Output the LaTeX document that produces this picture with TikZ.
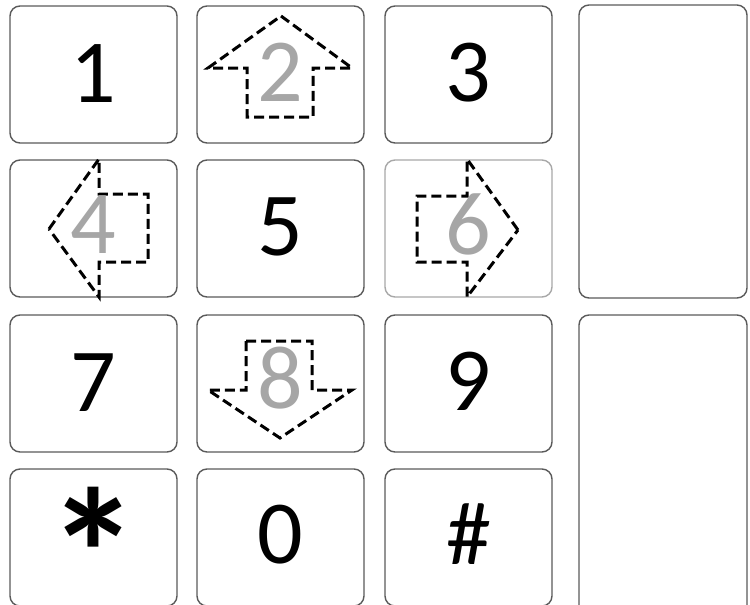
\documentclass[tikz,border=0pt]{standalone}
\usepackage{fontspec}
\setmainfont{Carlito}
\usetikzlibrary{calc}
\definecolor{keyedge}{HTML}{5A5A5A}
\definecolor{keyedgelight}{HTML}{A8A8A8}
\definecolor{digitgrey}{HTML}{A6A6A6}
\tikzset{
  key/.style={draw=keyedge, line width=1.4pt, rounded corners=10pt, fill=white,
    minimum width=167pt, minimum height=137pt, inner sep=0pt, outer sep=0pt, anchor=north west},
  digit/.style={font=\fontsize{90}{90}\selectfont, inner sep=0pt, anchor=base},
  greydigit/.style={digit, text=digitgrey},
  dasharrow/.style={draw=black, line width=3pt, dash pattern=on 10pt off 5pt, line join=miter},
}
\begin{document}
\begin{tikzpicture}[x=1pt,y=-1pt]
\useasboundingbox (0,0) rectangle (750,605);
\clip (0,0) rectangle (750,605);
% keys
\node[key] (k1) at (10,6) {};
\node[key] (k2) at (197,6) {};
\node[key] (k3) at (385,6) {};
\node[key] (k4) at (10,160) {};
\node[key] (k5) at (197,160) {};
\node[key, draw=keyedgelight] (k6) at (385,160) {};
\node[key] (k7) at (10,315) {};
\node[key] (k8) at (197,315) {};
\node[key] (k9) at (385,315) {};
\node[key] (kstar) at (10,469) {};
\node[key] (k0) at (197,469) {};
\node[key] (khash) at (385,469) {};
\node[key, minimum width=168pt, minimum height=293pt] (r1) at (579,5) {};
\node[key, minimum width=168pt, minimum height=300pt] (r2) at (579,315) {};
% dashed arrows
\draw[dasharrow] (281,16) -- (352,68) -- (313,68) -- (313,117) -- (247,117) -- (247,68) -- (208,68) -- cycle;
\draw[dasharrow] (49,229) -- (99,159) -- (99,194) -- (148,194) -- (148,262) -- (99,262) -- (99,297) -- cycle;
\draw[dasharrow] (518,230) -- (467,159) -- (467,196) -- (417,196) -- (417,262) -- (467,262) -- (467,297) -- cycle;
\draw[dasharrow] (246,341) -- (312,341) -- (312,390) -- (352,390) -- (280,438) -- (208,390) -- (246,390) -- cycle;
% digits
\node[digit] (d1) at ($(k1.north)+(0,96)$) {1};
\node[greydigit] (d2) at ($(k2.north)+(0,95)$) {2};
\node[digit] (d3) at ($(k3.north)+(0,95)$) {3};
\node[greydigit] (d4) at ($(k4.north)+(0,93)$) {4};
\node[digit] (d5) at ($(k5.north)+(0,95)$) {5};
\node[greydigit] (d6) at ($(k6.north)+(0,94)$) {6};
\node[digit] (d7) at ($(k7.north)+(0,96)$) {7};
\node[greydigit] (d8) at ($(k8.north)+(0,93)$) {8};
\node[digit] (d9) at ($(k9.north)+(0,95)$) {9};
\node[digit, font=\fontsize{185}{185}\bfseries\selectfont, anchor=north] (dstar) at ($(kstar.north)+(0,18)$) {*};
\node[digit] (d0) at ($(k0.north)+(0,94)$) {0};
\node[digit] (dhash) at ($(khash.north)+(0,95)$) {\#};
\end{tikzpicture}
\end{document}
